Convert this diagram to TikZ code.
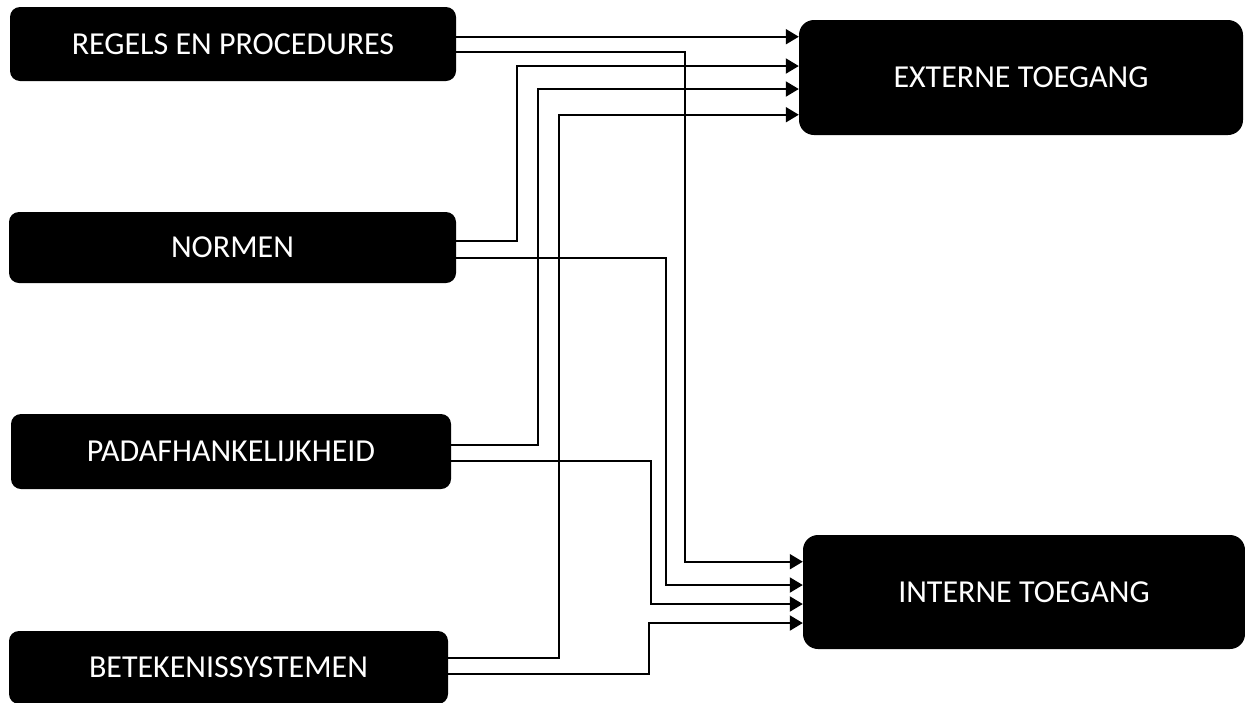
\documentclass[tikz,border=0pt]{standalone}
\usepackage{fontspec}
\setmainfont{Carlito}
\usetikzlibrary{arrows.meta,calc}

\tikzset{
  factor/.style={fill=black, text=white, rounded corners=10pt, inner sep=0pt,
    font=\fontsize{32}{38}\selectfont},
  access/.style={fill=black, text=white, rounded corners=15pt, inner sep=0pt,
    minimum width=443pt, minimum height=114pt, font=\fontsize{32}{38}\selectfont},
  link/.style={line width=2pt, -{Triangle[length=13pt,width=15pt]}}
}

\begin{document}
\begin{tikzpicture}[x=1pt,y=-1pt]
        \useasboundingbox (0,0) rectangle (1245,702);

        % Factors on the left
        \node[factor, minimum width=446pt, minimum height=74pt] (regels) at (233,44) {REGELS EN PROCEDURES};
        \node[factor, minimum width=447pt, minimum height=71pt] (normen) at (232.5,247.5) {NORMEN};
        \node[factor, minimum width=440pt, minimum height=75pt] (padaf) at (231,451.5) {PADAFHANKELIJKHEID};
        \node[factor, minimum width=439pt, minimum height=73pt] (betek) at (228.5,667.5) {BETEKENISSYSTEMEN};

        % Access on the right
        \node[access, minimum width=444pt, minimum height=115pt] (ext) at (1021,77.5) {EXTERNE TOEGANG};
        \node[access, minimum width=442pt] (int) at (1024,592) {INTERNE TOEGANG};

        % Links to external access
        \draw[link] ($(regels.east)+(0,-7.3)$) -- ($(ext.west)+(0,-40.8)$);
        \draw[link] ($(normen.east)+(0,-6.5)$) -| ($(ext.west)+(-282.3,-11.5)$) -- ($(ext.west)+(0,-11.5)$);
        \draw[link] ($(padaf.east)+(0,-6.5)$) -| ($(ext.west)+(-261,11.5)$) -- ($(ext.west)+(0,11.5)$);
        \draw[link] ($(betek.east)+(0,-9.5)$) -| ($(ext.west)+(-240,37.2)$) -- ($(ext.west)+(0,37.2)$);

        % Links to internal access
        \draw[link] ($(regels.east)+(0,8.3)$) -| ($(int.west)+(-118,-30.3)$) -- ($(int.west)+(0,-30.3)$);
        \draw[link] ($(normen.east)+(0,10.5)$) -| ($(int.west)+(-137,-7)$) -- ($(int.west)+(0,-7)$);
        \draw[link] ($(padaf.east)+(0,9.5)$) -| ($(int.west)+(-152.3,12)$) -- ($(int.west)+(0,12)$);
        \draw[link] ($(betek.east)+(0,6.5)$) -| ($(int.west)+(-154,31)$) -- ($(int.west)+(0,31)$);

    \end{tikzpicture}
\end{document}
